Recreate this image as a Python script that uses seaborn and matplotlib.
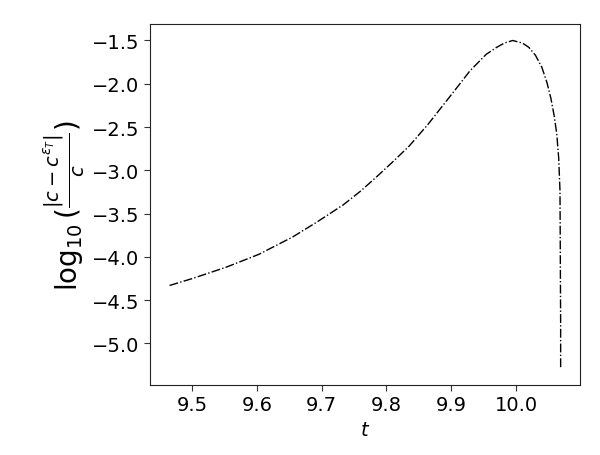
import matplotlib
matplotlib.use("Agg")
import matplotlib.pyplot as plt
import seaborn as sns
import pandas as pd

t_vals = [9.465, 9.50, 9.552, 9.603, 9.655, 9.692, 9.733, 9.760, 9.784, 9.810, 9.835,
          9.864, 9.903, 9.929, 9.954, 9.970, 9.982, 9.995, 10.010, 10.020, 10.030,
          10.040, 10.048, 10.054, 10.059, 10.063, 10.066, 10.068, 10.0685, 10.069, 10.069]
log_err = [-4.33, -4.25, -4.12, -3.97, -3.77, -3.60, -3.40, -3.24, -3.08, -2.90, -2.72,
           -2.47, -2.10, -1.85, -1.66, -1.58, -1.530, -1.50, -1.53, -1.58, -1.67,
           -1.81, -1.99, -2.17, -2.37, -2.58, -2.86, -3.24, -4.0, -4.8, -5.29]

sns.set_style("ticks")
plt.rcParams['font.family'] = ['DejaVu Sans']
plt.rcParams['text.color'] = 'black'
plt.rcParams['axes.labelcolor'] = 'black'

df = pd.DataFrame({"t": t_vals, "e": log_err})

fig = plt.figure(figsize=(6, 4.56), dpi=100)
ax = fig.add_axes([0.25, 0.1535, 0.717, 0.7915])
sns.lineplot(data=df, x="t", y="e", sort=False, estimator=None, ax=ax,
             color="black", linestyle="-.", linewidth=1.0)

for s in ax.spines.values():
    s.set_visible(True)
    s.set_color("#222222")
    s.set_linewidth(0.8)

ax.set_yticks([-5.0, -4.5, -4.0, -3.5, -3.0, -2.5, -2.0, -1.5])
ax.set_xticks([9.5, 9.6, 9.7, 9.8, 9.9, 10.0])
ax.tick_params(labelsize=14, direction="out", length=4, color="#333333",
               labelcolor="black")
ax.set_xlabel(r"$t$", fontsize=14)
ax.set_ylabel(r"$\log_{10}(\frac{|c-c^{\epsilon_T}|}{c})$", fontsize=20)

fig.savefig("out.png", dpi=100)
